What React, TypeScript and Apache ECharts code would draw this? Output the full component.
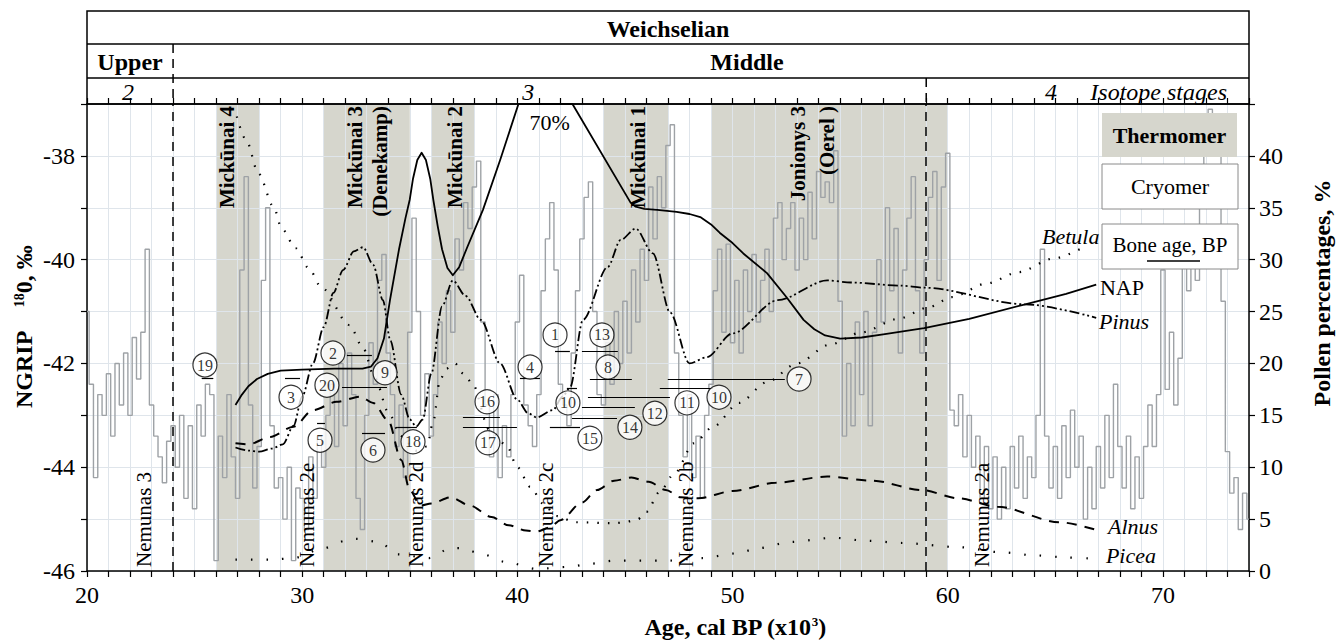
import React, { useEffect, useRef } from "react";
import * as echarts from "echarts";

// ---------- data ----------
const ageLabelTicks = [20, 30, 40, 50, 60, 70];
const ngripLabelTicks = [-46, -44, -42, -40, -38];
const pollenLabelTicks = [0, 5, 10, 15, 20, 25, 30, 35, 40];

// NGRIP delta 18O (permil) vs age (ka)
const ngrip: [number, number][] = [
  [20.0, -41.0], [20.2, -42.4], [20.4, -44.2], [20.6, -42.6], [20.8, -43.0], [21.0, -42.2], [21.2, -43.4], [21.4, -42.0],
  [21.6, -42.8], [21.8, -41.8], [22.0, -43.0], [22.2, -41.5], [22.4, -42.3], [22.6, -41.4], [22.8, -39.8], [23.0, -42.8],
  [23.2, -43.4], [23.4, -43.8], [23.6, -44.3], [23.8, -43.5], [24.0, -43.2], [24.2, -44.0], [24.4, -43.0], [24.6, -44.6],
  [24.8, -43.2], [25.0, -44.8], [25.2, -42.8], [25.4, -43.4], [25.6, -42.4], [25.8, -42.6], [26.0, -45.8], [26.2, -43.4],
  [26.4, -44.2], [26.6, -42.6], [26.8, -43.8], [27.0, -44.6], [27.2, -40.2], [27.4, -38.4], [27.6, -42.8], [27.8, -44.4],
  [28.0, -43.6], [28.2, -40.4], [28.4, -39.0], [28.6, -43.2], [28.8, -44.4], [29.0, -44.2], [29.2, -45.0], [29.4, -44.0],
  [29.6, -45.8], [29.8, -44.4], [30.0, -44.6], [30.2, -45.2], [30.4, -43.8], [30.6, -44.6], [30.8, -43.4], [31.0, -44.0],
  [31.2, -43.0], [31.4, -42.4], [31.6, -43.6], [31.8, -42.0], [32.0, -43.2], [32.2, -41.8], [32.4, -42.6], [32.6, -44.6],
  [32.8, -45.2], [33.0, -43.0], [33.2, -41.6], [33.4, -42.4], [33.6, -40.4], [33.8, -39.9], [34.0, -41.8], [34.2, -42.6],
  [34.4, -43.6], [34.6, -42.8], [34.8, -44.2], [35.0, -41.4], [35.2, -39.2], [35.4, -41.0], [35.6, -43.0], [35.8, -42.2],
  [36.0, -43.4], [36.2, -42.6], [36.4, -41.2], [36.6, -42.0], [36.8, -40.6], [37.0, -41.4], [37.2, -39.6], [37.4, -40.2],
  [37.6, -38.9], [37.8, -39.4], [38.0, -38.6], [38.2, -38.1], [38.4, -41.2], [38.6, -42.8], [38.8, -43.8], [39.0, -42.6],
  [39.2, -44.2], [39.4, -43.2], [39.6, -43.8], [39.8, -42.6], [40.0, -41.2], [40.2, -40.3], [40.4, -42.8], [40.6, -43.2],
  [40.8, -43.6], [41.0, -42.6], [41.2, -40.6], [41.4, -39.6], [41.6, -38.9], [41.8, -40.2], [42.0, -42.4], [42.2, -42.8],
  [42.4, -43.2], [42.6, -41.8], [42.8, -40.6], [43.0, -39.6], [43.2, -38.8], [43.4, -38.5], [43.6, -41.0], [43.8, -42.6],
  [44.0, -42.8], [44.2, -41.6], [44.4, -42.4], [44.6, -41.0], [44.8, -42.0], [45.0, -40.8], [45.2, -41.8], [45.4, -40.2],
  [45.6, -41.2], [45.8, -39.8], [46.0, -40.4], [46.2, -38.6], [46.4, -39.6], [46.6, -38.4], [46.8, -39.0], [47.0, -37.8],
  [47.2, -37.4], [47.4, -41.8], [47.6, -43.0], [47.8, -43.8], [48.0, -42.6], [48.2, -44.2], [48.4, -43.4], [48.6, -44.6],
  [48.8, -43.0], [49.0, -42.4], [49.2, -40.6], [49.4, -39.8], [49.6, -41.4], [49.8, -39.7], [50.0, -41.6], [50.2, -40.4],
  [50.4, -41.8], [50.6, -40.2], [50.8, -41.0], [51.0, -39.9], [51.2, -41.2], [51.4, -40.4], [51.6, -39.8], [51.8, -41.0],
  [52.0, -39.2], [52.2, -38.9], [52.4, -40.0], [52.6, -39.4], [52.8, -38.9], [53.0, -40.2], [53.2, -39.2], [53.4, -40.0],
  [53.6, -38.7], [53.8, -39.6], [54.0, -38.3], [54.2, -38.8], [54.4, -38.5], [54.6, -38.9], [54.8, -37.9], [55.0, -40.8],
  [55.2, -43.4], [55.4, -42.0], [55.6, -43.2], [55.8, -41.2], [56.0, -42.6], [56.2, -41.0], [56.4, -43.2], [56.6, -41.4],
  [56.8, -40.0], [57.0, -41.2], [57.2, -39.0], [57.4, -40.6], [57.6, -39.4], [57.8, -41.8], [58.0, -40.2], [58.2, -39.2],
  [58.4, -38.4], [58.6, -40.6], [58.8, -41.8], [59.0, -40.0], [59.2, -38.8], [59.4, -38.3], [59.6, -40.4], [59.8, -38.6],
  [60.0, -37.95], [60.2, -42.9], [60.4, -43.2], [60.6, -42.6], [60.8, -43.8], [61.0, -43.0], [61.2, -44.0], [61.4, -43.4],
  [61.6, -44.6], [61.8, -43.6], [62.0, -44.8], [62.2, -43.8], [62.4, -45.0], [62.6, -44.0], [62.8, -44.8], [63.0, -43.6],
  [63.2, -44.4], [63.4, -43.4], [63.6, -44.6], [63.8, -43.8], [64.0, -44.2], [64.2, -43.0], [64.4, -39.8], [64.6, -43.4],
  [64.8, -44.4], [65.0, -43.6], [65.2, -44.6], [65.4, -43.2], [65.6, -44.2], [65.8, -42.9], [66.0, -44.0], [66.2, -43.4],
  [66.4, -45.0], [66.6, -44.0], [66.8, -44.8], [67.0, -43.6], [67.2, -44.4], [67.4, -43.0], [67.6, -44.2], [67.8, -42.4],
  [68.0, -43.6], [68.2, -44.4], [68.4, -43.4], [68.6, -44.8], [68.8, -43.8], [69.0, -44.6], [69.2, -43.6], [69.4, -42.8],
  [69.6, -43.6], [69.8, -42.6], [70.0, -40.2], [70.2, -42.5], [70.4, -41.4], [70.6, -42.8], [70.8, -41.9], [71.0, -39.9],
  [71.2, -40.6], [71.4, -39.6], [71.6, -40.4], [71.8, -39.0], [72.0, -37.9], [72.2, -37.1], [72.4, -38.0], [72.6, -37.4],
  [72.8, -40.8], [73.0, -43.7], [73.2, -44.5], [73.4, -44.2], [73.6, -45.2], [73.8, -44.5], [74.0, -45.0],
];

// Pollen percentages (%)
const nap: [number, number][] = [
  [26.9, 16.0], [27.2, 17.0], [27.5, 17.8], [27.9, 18.5], [28.4, 19.0], [29.0, 19.3], [30.0, 19.4], [31.5, 19.5],
  [32.8, 19.5], [33.2, 19.7], [33.5, 20.5], [33.8, 22.4], [34.08, 26.1], [34.5, 31.0], [34.8, 34.0], [35.0, 35.8],
  [35.15, 37.8], [35.35, 39.6], [35.55, 40.3], [35.75, 39.6], [35.95, 37.8], [36.1, 35.7], [36.3, 33.2], [36.5, 31.0],
  [36.75, 29.2], [37.0, 28.5], [37.3, 29.3], [37.67, 31.2], [38.4, 34.8], [39.2, 39.6], [40.05, 45.0], [42.56, 45.0],
  [45.26, 35.5], [45.5, 35.1], [45.9, 34.9], [46.5, 34.8], [47.4, 34.6], [48.0, 34.4], [48.5, 34.1], [49.0, 33.4],
  [49.4, 32.6], [50.0, 31.6], [50.5, 30.6], [51.6, 28.7], [52.5, 26.4], [53.3, 24.2], [53.8, 23.3], [54.3, 22.7],
  [55.0, 22.4], [56.0, 22.5], [57.0, 22.8], [58.9, 23.4], [61.0, 24.3], [63.6, 25.7], [65.5, 26.7], [66.9, 27.6],
];
const pinus: [number, number][] = [
  [26.9, 11.9], [27.5, 11.6], [28.0, 11.5], [28.6, 11.8], [29.1, 12.2], [29.6, 14.0], [30.0, 16.8], [30.5, 20.0],
  [31.0, 23.5], [31.45, 26.8], [31.9, 29.0], [32.4, 30.8], [32.83, 31.2], [33.3, 29.5], [33.75, 26.1], [34.1, 22.2],
  [34.6, 17.0], [35.0, 14.6], [35.3, 13.9], [35.6, 14.6], [36.0, 19.0], [36.5, 25.5], [37.0, 28.0], [37.6, 26.5],
  [38.3, 24.2], [39.2, 20.0], [40.0, 16.5], [40.5, 15.2], [40.9, 14.8], [41.65, 15.5], [42.1, 16.8], [42.45, 17.7],
  [43.05, 24.2], [44.2, 29.3], [44.8, 31.9], [45.5, 33.0], [46.3, 30.6], [47.1, 24.9], [48.0, 20.0], [48.8, 20.6],
  [50.0, 22.9], [52.1, 26.1], [54.4, 28.0], [55.5, 27.8], [57.8, 27.5], [58.9, 27.3], [63.6, 25.7], [66.9, 24.4],
];
const alnus: [number, number][] = [
  [26.9, 12.3], [27.5, 12.2], [28.5, 12.9], [29.6, 13.9], [30.5, 15.5], [31.6, 16.3], [32.7, 16.8], [33.3, 16.2],
  [34.0, 14.5], [34.6, 10.7], [35.0, 7.8], [35.5, 6.3], [36.0, 6.5], [36.9, 7.1], [37.8, 6.3], [38.8, 5.2],
  [39.6, 4.4], [40.4, 3.9], [40.9, 3.8], [41.5, 4.2], [42.0, 4.9], [43.0, 6.6], [43.7, 7.8], [44.5, 8.7],
  [45.3, 9.0], [46.1, 8.6], [46.9, 7.8], [47.6, 7.1], [48.4, 7.0], [50.0, 7.7], [52.0, 8.5], [54.4, 9.1],
  [56.5, 8.7], [58.8, 7.8], [60.5, 7.0], [62.3, 6.2], [65.2, 4.7], [67.0, 3.9],
];
const betula: [number, number][] = [
  [26.96, 43.8], [27.4, 41.5], [27.97, 38.3], [28.67, 35.1], [29.05, 33.0], [29.7, 31.1], [30.3, 29.2], [30.9, 27.3],
  [32.2, 23.7], [32.8, 21.6], [33.4, 18.5], [34.0, 15.3], [34.6, 13.0], [35.3, 11.6], [35.8, 12.0], [36.1, 14.5],
  [36.4, 18.4], [36.7, 19.5], [37.1, 20.0], [37.5, 19.0], [37.9, 18.1], [38.7, 13.6], [39.5, 12.1], [40.0, 10.0],
  [40.6, 8.1], [41.2, 6.5], [41.8, 5.3], [42.7, 4.7], [44.5, 4.6], [45.0, 4.7], [45.6, 5.0], [46.0, 5.7],
  [46.6, 7.6], [47.3, 9.4], [48.2, 12.3], [49.1, 13.9], [50.3, 16.2], [51.6, 18.2], [53.0, 20.0], [54.5, 21.8],
  [56.0, 23.0], [57.7, 24.3], [59.1, 25.4], [60.2, 26.4], [61.8, 27.7], [63.3, 28.8], [64.9, 30.1], [66.4, 31.3],
];
const picea: [number, number][] = [
  [26.9, 1.1], [28.6, 1.1], [29.6, 1.25], [31.0, 2.2], [32.0, 2.9], [32.5, 3.1], [33.6, 2.8], [34.4, 1.6],
  [35.9, 1.25], [36.9, 2.2], [37.4, 2.2], [38.4, 1.6], [39.4, 0.9], [40.9, 0.2], [42.4, 0.4], [43.4, 0.7],
  [44.5, 1.0], [47.0, 1.0], [48.6, 1.25], [50.2, 1.7], [51.2, 2.2], [52.7, 2.8], [54.7, 3.2], [56.3, 2.9],
  [57.9, 2.7], [60.5, 2.3], [62.5, 1.8], [64.1, 1.5], [65.6, 1.3], [66.7, 1.2],
];

// Thermomers (warm intervals, ka) and their names
const thermomerBands: [number, number][] = [[26, 28], [31, 35], [36, 38], [44, 47], [49, 60]];
const thermomerNames: [string, number][] = [
  ["Mickūnai 4", 26.5], ["Mickūnai 3", 32.45], ["(Denekamp)", 33.6], ["Mickūnai 2", 37.1],
  ["Mickūnai 1", 45.6], ["Jonionys 3", 53.04], ["(Oerel )", 54.4],
];
// Cryomers (cold intervals) names
const cryomerNames: [string, number][] = [
  ["Nemunas 3", 22.65], ["Nemunas 2e", 30.22], ["Nemunas 2d", 35.29], ["Nemunas 2c", 41.33],
  ["Nemunas 2b", 47.83], ["Nemunas 2a", 61.59],
];
const isotopeBoundaries = [24, 59];
const isotopeStages: [string, number][] = [["2", 21.9], ["3", 40.5], ["4", 64.8]];

// Bone ages: [from ka, to ka, level on NGRIP axis]
const boneAgeBars: [number, number, number][] = [
  [25.33, 25.87, -42.29], [29.2, 29.9, -42.28], [30.69, 31.06, -43.15], [31.85, 33.94, -42.45],
  [32.08, 33.24, -41.84], [32.78, 33.85, -43.34], [34.41, 35.33, -43.23], [37.47, 39.19, -43.03],
  [37.47, 39.98, -43.23], [40.12, 41.05, -42.28], [41.75, 42.44, -41.76], [41.51, 42.91, -43.23],
  [42.3, 42.77, -42.47], [43.0, 44.67, -41.76], [43.37, 45.32, -42.3], [43.0, 45.46, -42.84],
  [42.54, 44.63, -43.05], [43.28, 47.09, -42.65], [46.62, 49.08, -42.47], [46.99, 52.43, -42.3],
];
const boneAgeIds: [string, number, number][] = [
  ["19", 25.48, -42.03], ["2", 31.43, -41.8], ["9", 33.85, -42.18], ["3", 29.48, -42.65],
  ["20", 31.15, -42.42], ["5", 30.83, -43.48], ["6", 33.29, -43.67], ["18", 35.15, -43.51],
  ["16", 38.59, -42.74], ["17", 38.63, -43.53], ["4", 40.59, -42.07], ["1", 41.75, -41.45],
  ["13", 43.93, -41.45], ["8", 44.21, -42.07], ["10", 42.35, -42.76], ["12", 46.39, -42.96],
  ["14", 45.23, -43.23], ["15", 43.37, -43.44], ["11", 47.88, -42.76], ["10", 49.37, -42.65],
  ["7", 53.09, -42.3],
];
// Pollen curve names: [text, age, %, italic]
const pollenNames: [string, number, number, boolean][] = [
  ["Betula", 64.38, 32.2, true], ["NAP", 67.07, 27.3, false], ["Pinus", 67.03, 24.0, true],
  ["Alnus", 67.45, 4.24, true], ["Picea", 67.35, 1.54, true],
];
const napMaxNote: [string, number, number] = ["70%", 41.5, 43.2];

// ---------- chart ----------
const SERIF = '"Liberation Serif", "Times New Roman", serif';
const BAND = "#d6d6cd";

export default function App() {
  const ref = useRef<HTMLDivElement>(null);

  useEffect(() => {
    document.body.style.margin = "0";
    const chart = echarts.init(ref.current!, null, { renderer: "svg" });

    const axisLine = { show: true, lineStyle: { color: "#000", width: 1.5 } };
    const axisTick = { show: true, length: 6, inside: false, lineStyle: { color: "#000", width: 1.2 } };
    const labelFont = { fontSize: 24, fontFamily: SERIF, color: "#000" };

    const option: any = {
      animation: false,
      backgroundColor: "#fff",
      grid: { left: 87, right: 92, top: 104, bottom: 71 },
      xAxis: [
        {
          type: "value", min: 20, max: 74, interval: 1, position: "bottom",
          axisLine, axisTick,
          axisLabel: {
            ...labelFont, margin: 12,
            formatter: (v: number) => (ageLabelTicks.includes(Math.round(v)) ? String(Math.round(v)) : ""),
          },
          splitLine: { show: true, lineStyle: { color: "#dfe5eb", width: 1 } },
        },
        {
          type: "value", min: 20, max: 74, interval: 1, position: "top",
          axisLine, axisTick, axisLabel: { show: false }, splitLine: { show: false },
        },
      ],
      yAxis: [
        {
          type: "value", min: -46, max: -37, interval: 1, position: "left",
          axisLine, axisTick,
          axisLabel: {
            ...labelFont, margin: 12,
            formatter: (v: number) => (ngripLabelTicks.includes(Math.round(v)) ? String(Math.round(v)) : ""),
          },
          splitLine: { show: true, lineStyle: { color: "#dfe5eb", width: 1 } },
        },
        {
          type: "value", min: 0, max: 45, interval: 5, position: "right",
          axisLine, axisTick,
          axisLabel: {
            ...labelFont, margin: 10,
            formatter: (v: number) => (pollenLabelTicks.includes(Math.round(v)) ? String(Math.round(v)) : ""),
          },
          splitLine: { show: false },
        },
      ],
      series: [
        {
          type: "custom", name: "Thermomer", z: -1, silent: true, clip: false,
          data: thermomerBands,
          renderItem: (_p: any, api: any) => {
            const a = api.coord([api.value(0), -37]);
            const b = api.coord([api.value(1), -46]);
            return { type: "rect", shape: { x: a[0], y: a[1], width: b[0] - a[0], height: b[1] - a[1] }, style: { fill: BAND } };
          },
        },
        {
          type: "line", name: "NGRIP", data: ngrip, step: "middle", symbol: "none",
          lineStyle: { color: "#9ea2a6", width: 1.4 }, z: 2,
        },
        {
          type: "line", name: "NAP", yAxisIndex: 1, data: nap, symbol: "none", smooth: false,
          lineStyle: { color: "#000", width: 1.8, join: "round" }, z: 3,
          markLine: {
            silent: true, symbol: "none", label: { show: false },
            lineStyle: { color: "#000", width: 1.5, type: [9, 6] },
            data: isotopeBoundaries.map((v) => ({ xAxis: v })),
          },
        },
        {
          type: "line", name: "Pinus", yAxisIndex: 1, data: pinus, symbol: "none", smooth: 0.3, smoothMonotone: "x",
          lineStyle: { color: "#000", width: 1.8, type: [10, 3, 2, 3, 2, 3] }, z: 3,
        },
        {
          type: "line", name: "Alnus", yAxisIndex: 1, data: alnus, symbol: "none", smooth: 0.3, smoothMonotone: "x",
          lineStyle: { color: "#000", width: 2, type: [10, 8] }, z: 3,
        },
        {
          type: "line", name: "Betula", yAxisIndex: 1, data: betula, symbol: "none", smooth: 0.3, smoothMonotone: "x",
          lineStyle: { color: "#000", width: 2.2, type: [1.5, 9] }, z: 3,
        },
        {
          type: "line", name: "Picea", yAxisIndex: 1, data: picea, symbol: "none", smooth: 0.3, smoothMonotone: "x",
          lineStyle: { color: "#000", width: 2.2, type: [1.5, 14] }, z: 3,
        },
        {
          type: "lines", name: "Bone age", coordinateSystem: "cartesian2d", xAxisIndex: 0, yAxisIndex: 0,
          polyline: false, symbol: "none", silent: true, z: 4,
          lineStyle: { color: "#000", width: 1.2, opacity: 1 },
          data: boneAgeBars.map(([f, t, l]) => ({ coords: [[f, l], [t, l]] })),
        },
        {
          type: "scatter", name: "Bone id", xAxisIndex: 0, yAxisIndex: 0, symbol: "circle", symbolSize: 24, z: 5,
          itemStyle: { color: "#fff", borderColor: "#000", borderWidth: 1.2 },
          label: { show: true, position: "inside", formatter: (p: any) => p.name, color: "#000", fontSize: 16, fontFamily: SERIF },
          data: boneAgeIds.map(([n, a, l]) => ({ name: n, value: [a, l] })),
        },
      ],
    };
    chart.setOption(option);

    // ----- graphic overlays positioned through the chart's own scales -----
    const X = (v: number) => chart.convertToPixel({ xAxisIndex: 0 }, v) as number;
    const YL = (v: number) => chart.convertToPixel({ yAxisIndex: 0 }, v) as number;
    const YR = (v: number) => chart.convertToPixel({ yAxisIndex: 1 }, v) as number;
    const left = X(20), right = X(74), top = YL(-37), bottom = YL(-46);
    const headTop = 11, row1 = 44, row2 = 78;

    const txt = (text: string, x: number, y: number, o: any = {}) => ({
      type: "text", x, y, rotation: o.rotation || 0, z: 100,
      style: {
        text, fill: "#000", fontFamily: SERIF, fontSize: o.size || 24,
        fontWeight: o.bold ? "bold" : "normal", fontStyle: o.italic ? "italic" : "normal",
        align: o.align || "center", verticalAlign: o.va || "middle", rich: o.rich,
      },
    });
    const g: any[] = [];
    g.push({ type: "rect", z: 100, shape: { x: left, y: headTop, width: right - left, height: top - headTop }, style: { fill: "none", stroke: "#000", lineWidth: 1.5 } });
    g.push({ type: "line", z: 100, shape: { x1: left, y1: row1, x2: right, y2: row1 }, style: { stroke: "#000", lineWidth: 1.5 } });
    g.push({ type: "line", z: 100, shape: { x1: left, y1: row2, x2: right, y2: row2 }, style: { stroke: "#000", lineWidth: 1.5 } });
    g.push({ type: "line", z: 100, shape: { x1: X(isotopeBoundaries[0]), y1: row1, x2: X(isotopeBoundaries[0]), y2: top }, style: { stroke: "#000", lineWidth: 1.5, lineDash: [9, 6] } });
    g.push({ type: "line", z: 100, shape: { x1: X(isotopeBoundaries[1]), y1: row2, x2: X(isotopeBoundaries[1]), y2: top }, style: { stroke: "#000", lineWidth: 1.5, lineDash: [9, 6] } });
    g.push(txt("Weichselian", (left + right) / 2, (headTop + row1) / 2 + 1, { bold: true }));
    g.push(txt("Upper", (left + X(isotopeBoundaries[0])) / 2, (row1 + row2) / 2 + 1, { bold: true }));
    g.push(txt("Middle", 747, (row1 + row2) / 2 + 1, { bold: true }));
    isotopeStages.forEach(([s, a]) => g.push(txt(s, X(a), (row2 + top) / 2 + 1, { italic: true })));
    g.push(txt("Isotope stages", right - 22, (row2 + top) / 2 + 1, { italic: true, align: "right" }));

    // thermomer names (rotated, anchored at top)
    thermomerNames.forEach(([n, a]) => g.push(txt(n, X(a), top + 2, { bold: true, size: 21, rotation: Math.PI / 2, align: "right" })));
    // cryomer names (rotated, anchored at bottom)
    cryomerNames.forEach(([n, a]) => g.push(txt(n, X(a), bottom - 4, { size: 21, rotation: Math.PI / 2, align: "left" })));
    // pollen curve names
    pollenNames.forEach(([n, a, p, it]) => g.push(txt(n, X(a), YR(p), { size: 22, italic: it, align: "left" })));
    g.push(txt(napMaxNote[0], X(napMaxNote[1]), YR(napMaxNote[2]), { size: 22 }));

    // axis titles
    g.push(txt("NGRIP    {s|18}0, ‰", 24, 327, {
      bold: true, rotation: Math.PI / 2,
      rich: { s: { fontSize: 14, fontWeight: "bold", fontFamily: SERIF, verticalAlign: "top", fill: "#000" } },
    }));
    g.push(txt("Pollen percentages, %", 1322, 293, { bold: true, rotation: Math.PI / 2 }));
    g.push(txt("Age, cal BP (x10{s|3})", 735, 627, {
      bold: true,
      rich: { s: { fontSize: 13, fontWeight: "bold", fontFamily: SERIF, verticalAlign: "top", fill: "#000" } },
    }));

    // legend boxes
    g.push({ type: "rect", z: 100, shape: { x: 1102, y: 113, width: 135, height: 44 }, style: { fill: BAND, stroke: "none" } });
    g.push(txt("Thermomer", 1169.5, 135, { bold: true, size: 22 }));
    g.push({ type: "rect", z: 100, shape: { x: 1102, y: 164, width: 136, height: 45 }, style: { fill: "#fff", stroke: "#8a8a8a", lineWidth: 1 } });
    g.push(txt("Cryomer", 1170, 186.5, { size: 22 }));
    g.push({ type: "rect", z: 100, shape: { x: 1102, y: 224, width: 136, height: 45 }, style: { fill: "#fff", stroke: "#8a8a8a", lineWidth: 1 } });
    g.push(txt("Bone age, BP", 1170, 245, { size: 21 }));
    g.push({ type: "line", z: 101, shape: { x1: 1147, y1: 261, x2: 1200, y2: 261 }, style: { stroke: "#000", lineWidth: 1.3 } });

    chart.setOption({ graphic: g });

    return () => chart.dispose();
  }, []);

  return <div ref={ref} style={{ width: 1341, height: 642 }} />;
}
